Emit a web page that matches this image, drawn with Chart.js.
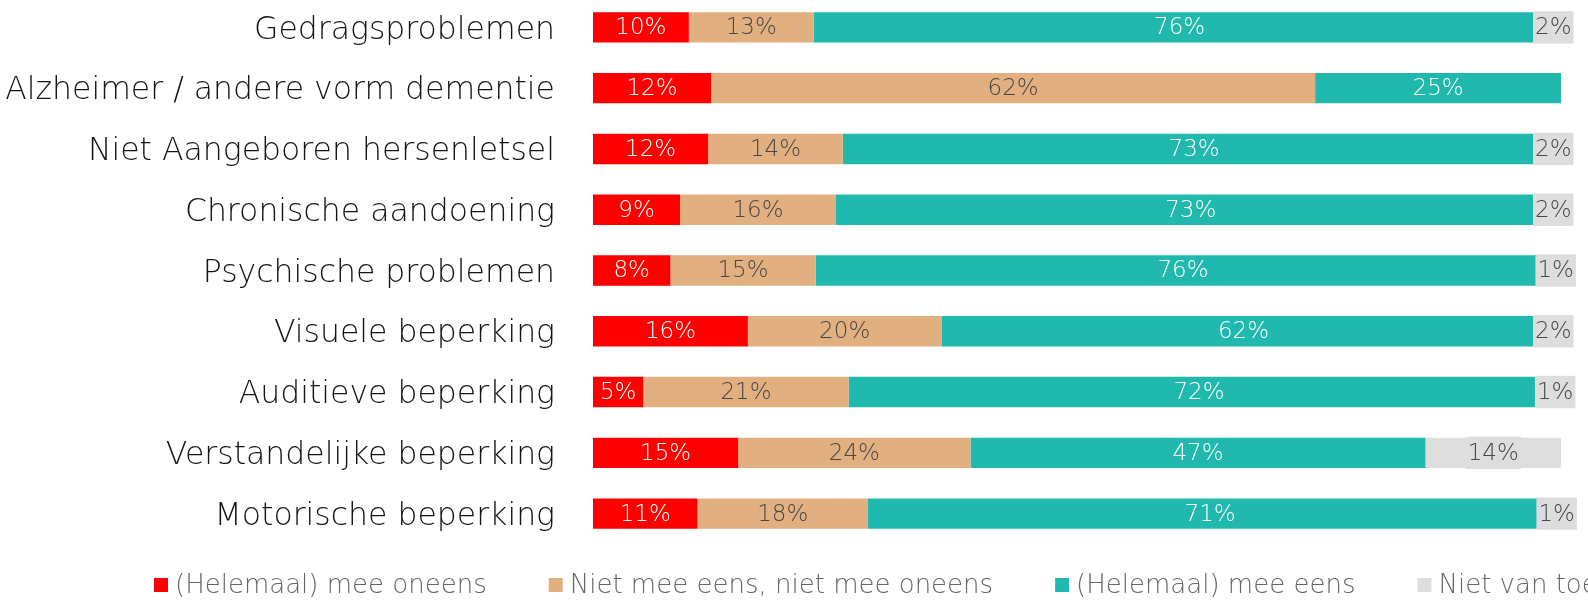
<!DOCTYPE html>
<html>
<head>
<meta charset="utf-8">
<script src="https://cdn.jsdelivr.net/npm/chart.js@4"></script>
<style>
  html, body { margin: 0; padding: 0; background: #fff; overflow: hidden; }
  #wrap { position: relative; top: -3px; width: 1588px; height: 608px; }
</style>
</head>
<body>
<div id="wrap"><canvas id="barChart"></canvas></div>
<script>
// Categories and shares (%), one array per answer
const categories = [
  'Gedragsproblemen',
  'Alzheimer / andere vorm dementie',
  'Niet Aangeboren hersenletsel',
  'Chronische aandoening',
  'Psychische problemen',
  'Visuele beperking',
  'Auditieve beperking',
  'Verstandelijke beperking',
  'Motorische beperking'
];
const seriesNames = ['(Helemaal) mee oneens', 'Niet mee eens, niet mee oneens', '(Helemaal) mee eens', 'Niet van toepassing'];
const oneens  = [9.9, 12.2, 11.9, 9.0, 8.0, 16.0, 5.2, 15.0, 10.8];
const neutraal = [12.9, 62.4, 13.9, 16.1, 15.0, 20.0, 21.2, 24.0, 17.6];
const eens    = [75.6, 25.4, 72.6, 73.3, 75.9, 62.4, 72.4, 47.0, 70.7];
const nvt     = [1.6, 0, 1.6, 1.6, 1.1, 1.6, 1.2, 14.0, 0.9];

const colors = ['#FF0000', '#E2B080', '#21B9AD', '#DDDDDD'];
const labelColors = ['#ffffff', '#474747', '#ffffff', '#474747'];
const FONT = "'DejaVu Sans', sans-serif";

// percentages inside the bars
const valueLabels = {
  id: 'valueLabels',
  afterDatasetsDraw(chart) {
    const ctx = chart.ctx;
    ctx.save();
    ctx.font = '200 23px ' + FONT;
    ctx.textAlign = 'center';
    ctx.textBaseline = 'middle';
    chart.data.datasets.forEach((ds, di) => {
      const meta = chart.getDatasetMeta(di);
      meta.data.forEach((bar, i) => {
        const v = ds.data[i];
        if (!v) return;
        const txt = Math.round(v) + '%';
        const cx = (bar.x + bar.base) / 2;
        if (di === 3) {
          const w = ctx.measureText(txt).width + 4;
          const h = bar.height + 2;
          ctx.fillStyle = colors[3];
          ctx.fillRect(cx - w / 2, bar.y - h / 2, w, h);
        }
        ctx.fillStyle = labelColors[di];
        ctx.fillText(txt, cx, bar.y + 1);
      });
    });
    ctx.restore();
  }
};

// legend row under the bars, runs off the right edge like the original
const bottomLegend = {
  id: 'bottomLegend',
  afterDraw(chart) {
    const ctx = chart.ctx;
    ctx.save();
    ctx.font = '200 26px ' + FONT;
    ctx.textBaseline = 'middle';
    let x = 154;
    const y = chart.chartArea.bottom + 41;
    chart.data.datasets.forEach(ds => {
      ctx.fillStyle = ds.backgroundColor;
      ctx.fillRect(x, y - 7, 14, 14);
      x += 21;
      ctx.fillStyle = '#666666';
      ctx.fillText(ds.label, x, y + 1);
      x += ctx.measureText(ds.label).width + 62;
    });
    ctx.restore();
  }
};

const seriesData = [oneens, neutraal, eens, nvt];
const ctx = document.getElementById('barChart').getContext('2d');
const barChart = new Chart(ctx, {
  type: 'bar',
  data: {
    labels: categories,
    datasets: seriesData.map((d, i) => ({
      label: seriesNames[i],
      data: d,
      backgroundColor: colors[i],
      borderWidth: 0,
      categoryPercentage: 1,
      barPercentage: 0.5
    }))
  },
  options: {
    indexAxis: 'y',
    responsive: true,
    maintainAspectRatio: false,
    animation: false,
    layout: { padding: { top: 0, right: 27, bottom: 61, left: 0 } },
    plugins: {
      legend: { display: false },
      tooltip: { enabled: false }
    },
    scales: {
      x: {
        stacked: true,
        min: 0,
        max: 100,
        display: false
      },
      y: {
        stacked: true,
        grid: { display: false, drawTicks: false },
        border: { display: false },
        ticks: {
          color: '#141414',
          padding: 38,
          labelOffset: 3,
          font: { family: FONT, size: 31.5, weight: '200' }
        },
        afterFit(scale) {
          scale.width = 593;
          // tick padding should not push the bars down
          scale.paddingTop = 0;
          scale.paddingBottom = 0;
        }
      }
    }
  },
  plugins: [valueLabels, bottomLegend]
});
</script>
</body>
</html>
